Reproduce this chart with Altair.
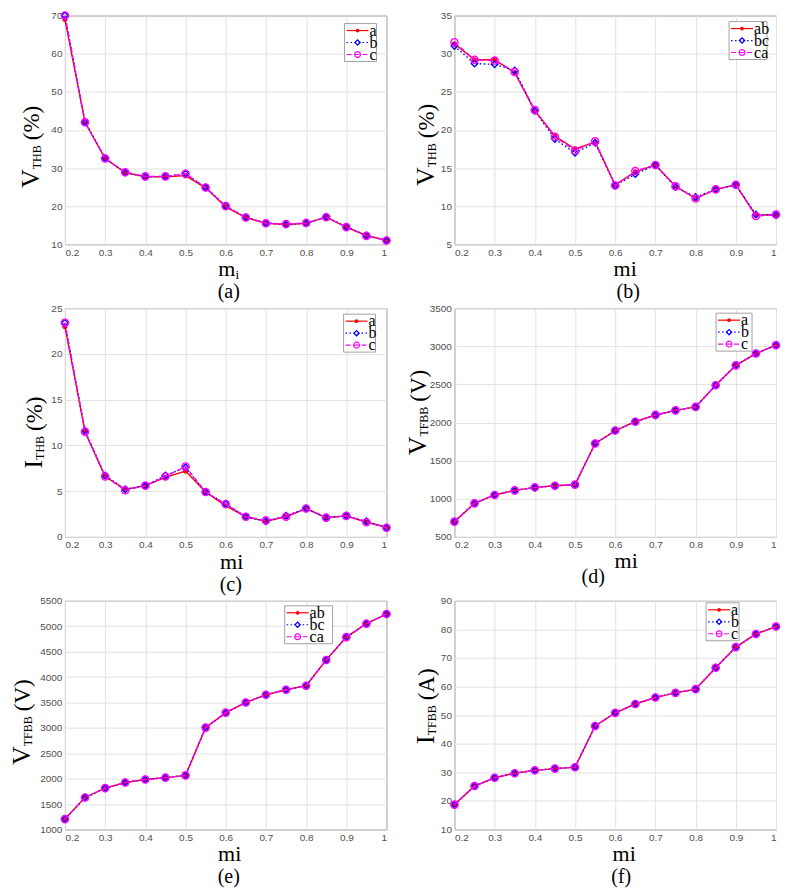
import altair as alt
import pandas as pd

# ---------------- data ----------------
MI = [0.2, 0.25, 0.3, 0.35, 0.4, 0.45, 0.5, 0.55, 0.6, 0.65, 0.7, 0.75, 0.8, 0.85, 0.9, 0.95, 1.0]
X_TICKS = [0.2, 0.3, 0.4, 0.5, 0.6, 0.7, 0.8, 0.9, 1.0]

PHASE_LABELS = ["a", "b", "c"]
LINE_LABELS = ["ab", "bc", "ca"]

# (a) V_THB (%) phase
A_A = [69.0, 42.0, 32.5, 28.8, 27.7, 27.7, 28.0, 24.8, 19.8, 17.0, 15.5, 15.2, 15.5, 17.1, 14.5, 12.3, 11.0]
A_B = [70.0, 42.1, 32.6, 28.8, 27.7, 27.8, 28.5, 24.9, 20.1, 17.1, 15.6, 15.2, 15.5, 17.2, 14.6, 12.3, 11.0]
A_C = [70.0, 42.0, 32.5, 28.9, 27.8, 27.8, 28.5, 24.9, 20.0, 17.0, 15.5, 15.3, 15.6, 17.1, 14.5, 12.2, 11.0]
A_YTICKS = [10, 20, 30, 40, 50, 60, 70]

# (b) V_THB (%) line
B_AB = [31.3, 29.2, 29.2, 27.5, 22.5, 19.2, 17.5, 18.4, 12.8, 14.5, 15.4, 12.6, 11.0, 12.2, 12.8, 8.8, 8.9]
B_BC = [31.0, 28.7, 28.6, 27.8, 22.5, 18.8, 17.0, 18.3, 12.7, 14.2, 15.4, 12.5, 11.2, 12.2, 12.8, 8.9, 8.8]
B_CA = [31.5, 29.2, 29.1, 27.6, 22.6, 19.1, 17.3, 18.5, 12.7, 14.6, 15.4, 12.6, 11.0, 12.2, 12.8, 8.7, 8.9]
B_YTICKS = [5, 10, 15, 20, 25, 30, 35]

# (c) I_THB (%)
C_A = [23.0, 11.5, 6.6, 5.2, 5.6, 6.5, 7.2, 4.9, 3.4, 2.2, 1.7, 2.2, 3.1, 2.1, 2.3, 1.6, 1.1]
C_B = [23.4, 11.6, 6.7, 5.2, 5.6, 6.7, 7.6, 4.9, 3.6, 2.2, 1.7, 2.3, 3.1, 2.1, 2.3, 1.7, 1.0]
C_C = [23.4, 11.5, 6.6, 5.1, 5.6, 6.6, 7.7, 4.9, 3.6, 2.2, 1.8, 2.2, 3.1, 2.1, 2.3, 1.6, 1.0]
C_YTICKS = [0, 5, 10, 15, 20, 25]

# (d) V_TFBB (V) phase
D_A = [700, 940, 1050, 1110, 1150, 1170, 1185, 1725, 1890, 2015, 2095, 2160, 2205, 2490, 2750, 2905, 3015]
D_B = [700, 940, 1050, 1110, 1145, 1170, 1185, 1725, 1895, 2010, 2095, 2160, 2205, 2490, 2750, 2905, 3015]
D_C = [700, 940, 1050, 1110, 1150, 1170, 1185, 1725, 1895, 2010, 2100, 2160, 2205, 2490, 2750, 2905, 3015]
D_YTICKS = [500, 1000, 1500, 2000, 2500, 3000, 3500]

# (e) V_TFBB (V) line
E_AB = [1205, 1630, 1815, 1925, 1985, 2020, 2065, 3005, 3300, 3500, 3650, 3750, 3830, 4335, 4785, 5050, 5240]
E_BC = [1205, 1630, 1815, 1925, 1985, 2020, 2065, 3005, 3290, 3500, 3650, 3750, 3830, 4335, 4785, 5050, 5240]
E_CA = [1205, 1630, 1815, 1925, 1985, 2020, 2065, 3005, 3300, 3500, 3650, 3750, 3830, 4335, 4785, 5050, 5240]
E_YTICKS = [1000, 1500, 2000, 2500, 3000, 3500, 4000, 4500, 5000, 5500]

# (f) I_TFBB (A)
F_A = [18.7, 25.2, 28.1, 29.7, 30.7, 31.3, 31.8, 46.2, 50.8, 53.9, 56.2, 57.8, 59.1, 66.6, 73.8, 78.4, 81.0]
F_B = [18.7, 25.2, 28.1, 29.7, 30.7, 31.3, 31.8, 46.2, 50.8, 53.9, 56.2, 57.8, 59.1, 66.6, 73.8, 78.4, 81.0]
F_C = [18.7, 25.2, 28.1, 29.7, 30.7, 31.3, 31.8, 46.2, 50.8, 53.9, 56.2, 57.8, 59.1, 66.6, 73.8, 78.4, 81.0]
F_YTICKS = [10, 20, 30, 40, 50, 60, 70, 80, 90]

# ---------------- styling ----------------
W, H = 322, 229
SERIF = "Liberation Serif"
SANS = "Liberation Sans"
COLORS = ["#ff0000", "#0000ff", "#ff00ff"]
DASHES = [None, [1.5, 2.5], [5, 3]]
SHAPES = ["circle", "diamond", "circle"]
FILLED = [True, False, False]
SIZES = [26, 42, 52]

CW = {"V": .722, "I": .333, "T": .611, "H": .722, "B": .667, "F": .556, "(": .333,
      ")": .333, "%": .833, "A": .722, "m": .778, "i": .278}


def tw(s, fs):
    return sum(CW.get(c, .5) for c in s) * fs


ONE = pd.DataFrame({"k": [0]})


def txt(t, x, y, fs, dx=0, dy=0, angle=0, align="left", baseline="alphabetic"):
    return alt.Chart(ONE).mark_text(
        text=t, font=SERIF, fontSize=fs, angle=angle, align=align,
        baseline=baseline, dx=dx, dy=dy, color="black"
    ).encode(x=alt.value(x), y=alt.value(y))


def y_title(main, sub, suf, cx, cy):
    fm, fs, fx = 26, 12, 23
    lm, ls, lx = tw(main, fm), tw(sub, fs), tw(suf, fx)
    gap = 5
    L = lm + ls + gap + lx
    xb = cx + 9
    d0 = -L / 2
    return [
        txt(main, xb, cy, fm, dx=d0, angle=270),
        txt(sub, xb, cy, fs, dx=d0 + lm, dy=2, angle=270),
        txt(suf, xb, cy, fx, dx=d0 + lm + ls + gap, angle=270),
    ]


def x_title(sub_i, cx, by):
    if sub_i:
        lm, li = tw("m", 22), tw("i", 13)
        x0 = cx - (lm + li) / 2
        return [txt("m", x0, by, 22), txt("i", x0 + lm, by + 3, 13)]
    return [txt("mi", cx, by, 22, align="center")]


def legend(labels, bx, by, bw):
    bh = 38
    out = [alt.Chart(ONE).mark_rect(fill="white", stroke="#8c8c8c", strokeWidth=0.8).encode(
        x=alt.value(bx), x2=alt.value(bx + bw), y=alt.value(by), y2=alt.value(by + bh))]
    for i, lab in enumerate(labels):
        ry = by + 7 + 12 * i
        rk = dict(color=COLORS[i], strokeWidth=1.2)
        if DASHES[i]:
            rk["strokeDash"] = DASHES[i]
        out.append(alt.Chart(ONE).mark_rule(**rk).encode(
            x=alt.value(bx + 2), x2=alt.value(bx + 24), y=alt.value(ry)))
        out.append(alt.Chart(ONE).mark_point(
            shape=SHAPES[i], filled=FILLED[i], size=[14, 28, 34][i], color=COLORS[i],
            strokeWidth=1.2, opacity=1).encode(x=alt.value(bx + 13), y=alt.value(ry)))
        out.append(txt(lab, bx + 25, ry, 16, baseline="middle"))
    return out


PANELS = [
    dict(series=[A_A, A_B, A_C], labels=PHASE_LABELS, dom=[10, 70], yt=A_YTICKS,
         t=("V", "THB", "(%)"), tx=-35, ty=17, leg=(280, 8, 32), sub_i=True,
         xtx=3, xty=32, cap="(a)", capx=3, capy=48),
    dict(series=[B_AB, B_BC, B_CA], labels=LINE_LABELS, dom=[5, 35], yt=B_YTICKS,
         t=("V", "THB", "(%)"), tx=-29, ty=15, leg=(275, 6, 38), sub_i=False,
         xtx=10, xty=32, cap="(b)", capx=13, capy=48),
    dict(series=[C_A, C_B, C_C], labels=PHASE_LABELS, dom=[0, 25], yt=C_YTICKS,
         t=("I", "THB", "(%)"), tx=-32, ty=10, leg=(279, 6, 32), sub_i=False,
         xtx=6, xty=32, cap="(c)", capx=5, capy=48),
    dict(series=[D_A, D_B, D_C], labels=PHASE_LABELS, dom=[500, 3500], yt=D_YTICKS,
         t=("V", "TFBB", "(V)"), tx=-37, ty=-10, leg=(262, 5, 36), sub_i=False,
         xtx=11, xty=31, cap="(d)", capx=-22, capy=40),
    dict(series=[E_AB, E_BC, E_CA], labels=LINE_LABELS, dom=[1000, 5500], yt=E_YTICKS,
         t=("V", "TFBB", "(V)"), tx=-44, ty=7, leg=(220, 5, 48), sub_i=False,
         xtx=4, xty=32, cap="(e)", capx=3, capy=48),
    dict(series=[F_A, F_B, F_C], labels=PHASE_LABELS, dom=[10, 90], yt=F_YTICKS,
         t=("I", "TFBB", "(A)"), tx=-29, ty=-9, leg=(252, 2, 33), sub_i=False,
         xtx=9, xty=32, cap="(f)", capx=6, capy=48),
]


def make_panel(p):
    xenc = alt.X("mi:Q", scale=alt.Scale(domain=[0.2, 1.0], nice=False, zero=False),
                 axis=alt.Axis(values=X_TICKS, format=".1~f", title=None))
    yenc = alt.Y("v:Q", scale=alt.Scale(domain=p["dom"], nice=False, zero=False),
                 axis=alt.Axis(values=p["yt"], format="d", title=None))
    layers = []
    for i, vals in enumerate(p["series"]):
        df = pd.DataFrame({"mi": MI, "v": vals, "s": p["labels"][i]})
        base = alt.Chart(df).encode(x=xenc, y=yenc)
        lk = dict(color=COLORS[i], strokeWidth=1.4)
        if DASHES[i]:
            lk["strokeDash"] = DASHES[i]
        layers.append(base.mark_line(**lk))
        layers.append(base.mark_point(shape=SHAPES[i], filled=FILLED[i], size=SIZES[i],
                                      color=COLORS[i], strokeWidth=1.4, opacity=1))
    layers += legend(p["labels"], *p["leg"])
    layers += y_title(*p["t"], p["tx"], H / 2 + p["ty"])
    layers += x_title(p["sub_i"], W / 2 + p["xtx"], H + p["xty"])
    layers.append(txt(p["cap"], W / 2 + p["capx"], H + p["capy"], 20,
                      align="center", baseline="middle"))
    return alt.layer(*layers).properties(width=W, height=H)


chart = alt.concat(
    *[make_panel(p) for p in PANELS],
    columns=2,
    spacing={"row": 64, "column": 68},
    bounds="flush",
).properties(
    padding=0
).configure_axis(
    grid=True, gridColor="#e2e2e2", gridWidth=1, domain=False, ticks=False,
    labelFont=SANS, labelFontSize=10, labelColor="#505050", labelPadding=3,
).configure_view(
    stroke="#7a7a7a", strokeWidth=1
)

chart.save("out.html", embed_options={"renderer": "svg", "actions": False})
